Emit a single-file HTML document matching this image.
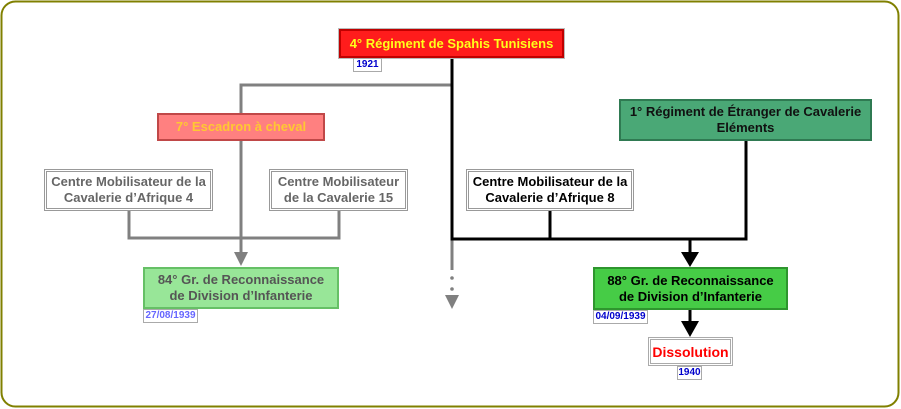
<!DOCTYPE html>
<html><head><meta charset="utf-8"><style>
html,body{margin:0;padding:0;background:#fff;}
body{width:901px;height:409px;position:relative;overflow:hidden;font-family:"Liberation Sans",Arial,sans-serif;}
svg{position:absolute;left:0;top:0;}
.b{position:absolute;box-sizing:border-box;display:flex;align-items:center;justify-content:center;text-align:center;font-weight:bold;font-size:13px;line-height:16px;}
.l{position:absolute;box-sizing:border-box;background:#fff;border:1px solid #aaa;font-weight:bold;font-size:10px;line-height:12px;text-align:center;color:#0000cc;}
</style></head><body>
<svg width="901" height="409" viewBox="0 0 901 409">
<rect x="1.5" y="1.5" width="897" height="405" rx="14" ry="14" fill="#fff" stroke="#808000" stroke-width="2"/>
<g stroke="#808080" stroke-width="3" fill="none">
<polyline points="452,85 241,85 241,253"/>
<polyline points="129,211 129,238 339,238 339,211"/>
<line x1="452" y1="240" x2="452" y2="270"/>
</g>
<g fill="#808080">
<polygon points="234,252 248,252 241,266"/>
<circle cx="452" cy="278" r="1.8"/>
<circle cx="452" cy="289" r="1.8"/>
<polygon points="445,295 459,295 452,309"/>
</g>
<g stroke="#000" stroke-width="3" fill="none">
<polyline points="452,57 452,239 746,239 746,141"/>
<line x1="550" y1="211" x2="550" y2="239"/>
<line x1="690" y1="239" x2="690" y2="254"/>
<line x1="690" y1="310" x2="690" y2="323"/>
</g>
<g fill="#000">
<polygon points="681,252 699,252 690,267"/>
<polygon points="681,321 699,321 690,337"/>
</g>
</svg>

<div class="b" style="left:339px;top:29px;width:225px;height:29px;background:#ff1c1c;border:2px solid #c00000;outline:1px solid #bbb;color:#ffff1a;">4° Régiment de Spahis Tunisiens</div>
<div class="l" style="left:353px;top:58px;width:29px;height:14px;">1921</div>

<div class="b" style="left:157px;top:113px;width:168px;height:28px;background:#ff8080;border:2px solid #c04848;color:#ffc832;">7° Escadron à cheval</div>

<div class="b" style="left:44px;top:169px;width:169px;height:42px;background:#fff;border:3px double #999;color:#666;">Centre Mobilisateur de la<br>Cavalerie d’Afrique 4</div>
<div class="b" style="left:269px;top:169px;width:139px;height:42px;background:#fff;border:3px double #999;color:#666;">Centre Mobilisateur<br>de la Cavalerie 15</div>
<div class="b" style="left:466px;top:169px;width:168px;height:42px;background:#fff;border:3px double #999;color:#000;">Centre Mobilisateur de la<br>Cavalerie d’Afrique 8</div>

<div class="b" style="left:619px;top:99px;width:253px;height:42px;background:#4aa876;border:2px solid #2f7a52;color:#111;">1° Régiment de Étranger de Cavalerie<br>Eléments</div>

<div class="b" style="left:143px;top:267px;width:196px;height:42px;background:#98e698;border:2px solid #66c066;color:#555;">84° Gr. de Reconnaissance<br>de Division d’Infanterie</div>
<div class="l" style="left:143px;top:309px;width:55px;height:14px;color:#6666ff;">27/08/1939</div>

<div class="b" style="left:593px;top:267px;width:195px;height:43px;background:#46cc46;border:2px solid #2e962e;color:#000;">88° Gr. de Reconnaissance<br>de Division d’Infanterie</div>
<div class="l" style="left:593px;top:310px;width:55px;height:14px;">04/09/1939</div>

<div class="b" style="left:648px;top:337px;width:85px;height:29px;background:#fff;border:3px double #aaa;color:#ff0000;font-size:14px;">Dissolution</div>
<div class="l" style="left:677px;top:366px;width:25px;height:14px;">1940</div>
</body></html>
